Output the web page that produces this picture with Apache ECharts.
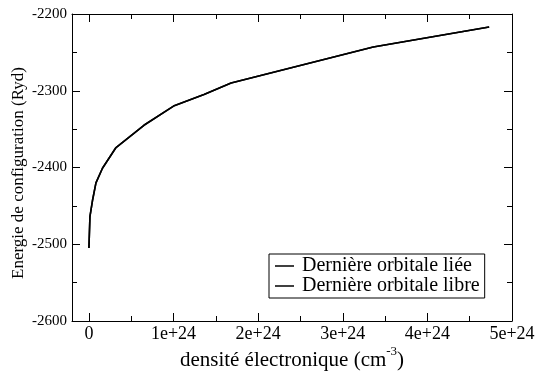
<!DOCTYPE html>
<html>
<head>
<meta charset="utf-8">
<script src="https://cdn.jsdelivr.net/npm/echarts@6/dist/echarts.min.js"></script>
<style>
  html, body { margin: 0; padding: 0; background: #fff; }
  #chart { width: 538px; height: 376px; }
</style>
</head>
<body>
<div id="chart"></div>
<script>
// Énergie de configuration en fonction de la densité électronique
const densite = [0, 0.012e24, 0.044e24, 0.083e24, 0.16e24, 0.32e24, 0.65e24, 1.0e24, 1.36e24, 1.68e24, 3.36e24, 4.73e24];
const energieLiee = [-2505, -2464, -2442, -2420, -2401, -2374, -2345, -2320, -2305, -2290, -2243, -2217];
const energieLibre = [-2505, -2464, -2442, -2420, -2401, -2374, -2345, -2320, -2305, -2290, -2243, -2217];
const seriesNames = ['Dernière orbitale liée', 'Dernière orbitale libre'];

const xTickValues = [0, 1e24, 2e24, 3e24, 4e24, 5e24];
const xTickLabels = ['0', '1e+24', '2e+24', '3e+24', '4e+24', '5e+24'];
const xMinorValues = [0.5e24, 1.5e24, 2.5e24, 3.5e24, 4.5e24];
const yTickLabels = ['-2600', '-2500', '-2400', '-2300', '-2200'];

const serif = 'Liberation Serif';
const black = '#000';

function xLabel(v) {
  const i = xTickValues.findIndex(t => Math.abs(t - v) < 1e18);
  return i >= 0 ? xTickLabels[i] : '';
}
function yLabel(v) {
  const i = yTickLabels.findIndex(t => Number(t) === Math.round(v));
  return i >= 0 ? yTickLabels[i] : String(v);
}

const xBase = {
  type: 'value',
  min: -0.2e24,
  max: 5e24,
  splitLine: { show: false },
  axisLine: { show: false, onZero: false, lineStyle: { color: black, width: 1 } },
  axisLabel: { show: false },
  axisTick: { show: false }
};

function xAxisDef(position, major, withLabels) {
  const ax = JSON.parse(JSON.stringify(xBase));
  ax.position = position;
  ax.axisLine.show = major;
  ax.axisTick = {
    show: true, inside: true, length: major ? 8 : 5,
    customValues: major ? xTickValues : xMinorValues,
    lineStyle: { color: black, width: 1 }
  };
  if (withLabels) {
    ax.axisLabel = {
      show: true, customValues: xTickValues, formatter: xLabel, margin: 4,
      fontFamily: serif, fontSize: 18, color: black
    };
  }
  return ax;
}

function yAxisDef(position, withLabels) {
  return {
    type: 'value',
    position: position,
    min: -2600,
    max: -2200,
    interval: 100,
    splitLine: { show: false },
    axisLine: { show: true, onZero: false, lineStyle: { color: black, width: 1 } },
    axisTick: { show: true, inside: true, length: 8, lineStyle: { color: black, width: 1 } },
    minorTick: { show: true, splitNumber: 2, length: 5, lineStyle: { color: black, width: 1 } },
    axisLabel: withLabels
      ? { show: true, formatter: yLabel, margin: 5, fontFamily: serif, fontSize: 15, color: black }
      : { show: false }
  };
}

const chart = echarts.init(document.getElementById('chart'), null, { renderer: 'canvas' });

chart.setOption({
  animation: false,
  backgroundColor: '#fff',
  grid: { left: 72, right: 26, top: 14, bottom: 55, containLabel: false },
  xAxis: [
    xAxisDef('bottom', true, true),
    xAxisDef('bottom', false, false),
    xAxisDef('top', true, false),
    xAxisDef('top', false, false)
  ],
  yAxis: [yAxisDef('left', true), yAxisDef('right', false)],
  legend: {
    data: seriesNames,
    orient: 'vertical',
    left: 269,
    top: 254,
    icon: 'rect',
    itemWidth: 19,
    itemHeight: 1.5,
    itemGap: 0,
    selectedMode: false,
    borderColor: black,
    borderWidth: 1,
    borderRadius: 0,
    padding: [2, 5, 2, 6],
    textStyle: { fontFamily: serif, fontSize: 20, color: black, lineHeight: 19, padding: [0, 0, 0, 3] }
  },
  graphic: [
    {
      type: 'text',
      x: 19,
      y: 173,
      rotation: Math.PI / 2,
      style: {
        text: 'Energie de configuration (Ryd)',
        fontFamily: serif,
        fontSize: 17,
        fill: black,
        align: 'center',
        verticalAlign: 'middle'
      }
    },
    {
      type: 'text',
      x: 292,
      y: 358,
      style: {
        text: '{n|densité électronique (cm}{s|-3}{n|)}',
        align: 'center',
        verticalAlign: 'middle',
        fill: black,
        rich: {
          n: { fontFamily: serif, fontSize: 21, lineHeight: 26, fill: black, verticalAlign: 'bottom' },
          s: { fontFamily: serif, fontSize: 13, lineHeight: 13, fill: black, verticalAlign: 'top' }
        }
      }
    }
  ],
  series: [
    {
      name: seriesNames[0],
      type: 'line',
      xAxisIndex: 0,
      yAxisIndex: 0,
      symbol: 'none',
      color: black,
      lineStyle: { color: black, width: 1.6 },
      data: densite.map((d, i) => [d, energieLiee[i]])
    },
    {
      name: seriesNames[1],
      type: 'line',
      xAxisIndex: 0,
      yAxisIndex: 0,
      symbol: 'none',
      color: black,
      lineStyle: { color: black, width: 1.6 },
      data: densite.map((d, i) => [d, energieLibre[i]])
    }
  ]
});
</script>
</body>
</html>
